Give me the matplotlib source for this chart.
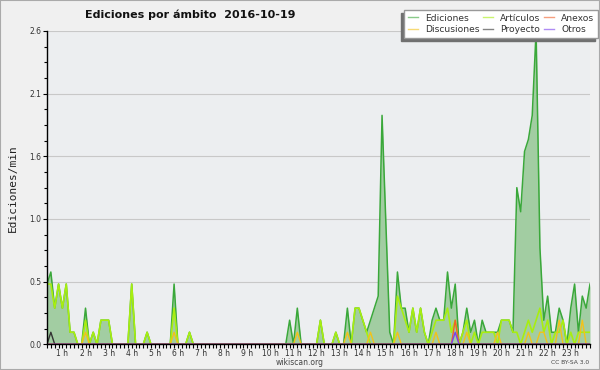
import numpy as np
import matplotlib
matplotlib.use("Agg")
import matplotlib.pyplot as plt
from matplotlib.lines import Line2D
from matplotlib.patches import Rectangle
from matplotlib.ticker import MultipleLocator

# 10-minute bins from 00:20 to 23:50, edits per minute
ediciones = [
    0.5, 0.6, 0.3, 0.5,                 # 0 h
    0.3, 0.5, 0.1, 0.1, 0, 0,           # 1 h
    0.3, 0, 0.1, 0, 0.2, 0.2,           # 2 h
    0.2, 0, 0, 0, 0, 0,                 # 3 h
    0.5, 0, 0, 0, 0.1, 0,               # 4 h
    0, 0, 0, 0, 0, 0.5,                 # 5 h
    0, 0, 0, 0.1, 0, 0,                 # 6 h
    0, 0, 0, 0, 0, 0,                   # 7 h
    0, 0, 0, 0, 0, 0,                   # 8 h
    0, 0, 0, 0, 0, 0,                   # 9 h
    0, 0, 0, 0, 0, 0.2,                 # 10 h
    0, 0.3, 0, 0, 0, 0,                 # 11 h
    0, 0.2, 0, 0, 0, 0.1,               # 12 h
    0, 0, 0.3, 0, 0.3, 0.3,             # 13 h
    0.2, 0.1, 0.2, 0.3, 0.4, 1.9,       # 14 h
    1.0, 0.1, 0, 0.6, 0.3, 0.3,         # 15 h
    0.1, 0.3, 0.1, 0.3, 0.1, 0,         # 16 h
    0.2, 0.3, 0.2, 0.2, 0.6, 0.3,       # 17 h
    0.5, 0, 0.1, 0.3, 0.1, 0.2,         # 18 h
    0, 0.2, 0.1, 0.1, 0.1, 0.1,         # 19 h
    0.2, 0.2, 0.2, 0.1, 1.3, 1.1,       # 20 h
    1.6, 1.7, 1.9, 2.6, 0.8, 0.2,       # 21 h
    0.4, 0.1, 0.1, 0.3, 0.2, 0,         # 22 h
    0.3, 0.5, 0.1, 0.4, 0.3, 0.5,       # 23 h
]

articulos = [
    0.5, 0.5, 0.3, 0.5,
    0.3, 0.5, 0.1, 0.1, 0, 0,
    0.2, 0, 0.1, 0, 0.2, 0.2,
    0.2, 0, 0, 0, 0, 0,
    0.5, 0, 0, 0, 0.1, 0,
    0, 0, 0, 0, 0, 0.3,
    0, 0, 0, 0.1, 0, 0,
    0, 0, 0, 0, 0, 0,
    0, 0, 0, 0, 0, 0,
    0, 0, 0, 0, 0, 0,
    0, 0, 0, 0, 0, 0,
    0, 0, 0, 0, 0, 0,
    0, 0.2, 0, 0, 0, 0.1,
    0, 0, 0, 0, 0.3, 0.3,
    0.2, 0.1, 0, 0, 0, 0,
    0, 0, 0, 0.4, 0.3, 0.2,
    0.1, 0.3, 0.1, 0.3, 0.1, 0,
    0.1, 0.2, 0.2, 0.2, 0.3, 0.1,
    0.2, 0, 0.1, 0.2, 0, 0.1,
    0, 0.1, 0.1, 0.1, 0.1, 0,
    0.2, 0.2, 0.2, 0.1, 0.1, 0,
    0.1, 0.2, 0.1, 0.2, 0.3, 0.1,
    0.2, 0, 0.1, 0.1, 0.2, 0,
    0.1, 0, 0.1, 0.1, 0.1, 0.1,
]

# sparse series: bin start (HH:MM) -> value
discusiones_t = ['02:00', '05:50', '11:10', '13:20', '14:20', '15:30', '17:10',
                 '18:30', '19:50', '21:10', '21:40', '21:50', '22:30', '23:30']
discusiones_v = [0.1, 0.1, 0.1, 0.1, 0.1, 0.1, 0.1, 0.1, 0.1, 0.1, 0.1, 0.1, 0.2, 0.2]
proyecto_t = ['00:30']
proyecto_v = [0.1]
anexos_t = ['18:00']
anexos_v = [0.2]
otros_t = ['18:00']
otros_v = [0.1]

hour_labels = ['%d h' % h for h in range(1, 24)]

t = 20 + 10 * np.arange(len(ediciones))


def sparse(times, vals):
    out = np.zeros(len(t))
    for s, v in zip(times, vals):
        hh, mm = s.split(':')
        out[np.searchsorted(t, int(hh) * 60 + int(mm))] = v
    return out


discusiones = sparse(discusiones_t, discusiones_v)
proyecto = sparse(proyecto_t, proyecto_v)
anexos = sparse(anexos_t, anexos_v)
otros = sparse(otros_t, otros_v)

plt.rcParams['font.family'] = ['DejaVu Sans']

fig = plt.figure(figsize=(6, 3.7), dpi=100, facecolor='#f0f0f0')
ax = fig.add_axes([47 / 600, 25.7 / 370, 543 / 600, 313.3 / 370])
ax.set_facecolor('#eceef0')

c_ed, c_art, c_disc = '#3aa83a', '#a8ee10', '#f2c21a'
c_proy, c_anx, c_otr = '#333333', '#f0602a', '#7a40ee'

ax.fill_between(t, 0, ediciones, color='#a2cda2', lw=0)
ax.plot(t, ediciones, color=c_ed, lw=1.1)
ax.plot(t, articulos, color=c_art, lw=1.2)
ax.plot(t, discusiones, color=c_disc, lw=1.0)
ax.plot(t, proyecto, color=c_proy, lw=1.0)
ax.plot(t, anexos, color=c_anx, lw=1.0)
ax.plot(t, otros, color=c_otr, lw=1.0)

ax.set_xlim(t[0], t[-1])
ax.set_ylim(0, 2.6)
yt = [0, 0.52, 1.04, 1.56, 2.08, 2.6]
ax.set_yticks(yt, ['%.1f' % v for v in yt])
ax.yaxis.set_minor_locator(MultipleLocator(0.13))
ax.set_xticks(60 * np.arange(1, 24), hour_labels)
ax.set_xticks(t, minor=True)
ax.tick_params(which='both', direction='out', length=3, width=0.8, color='black',
               labelsize=5.5, labelcolor='#333333', pad=1.0)
ax.tick_params(axis='y', which='minor', length=2)
ax.tick_params(axis='x', pad=0.3)
ax.yaxis.grid(True, color='#c8c8c8', lw=0.8)
ax.set_axisbelow(True)
for s in ['top', 'right']:
    ax.spines[s].set_visible(False)
for s in ['left', 'bottom']:
    ax.spines[s].set_linewidth(1.0)
    ax.spines[s].set_zorder(5)

ax.set_ylabel('Ediciones/min', family='DejaVu Sans Mono', fontsize=8, color='#222222', labelpad=8)

fig.text(85 / 600, 1 - 15 / 370, 'Ediciones por ámbito  2016-10-19', ha='left', va='center',
         fontsize=8, weight='bold', color='#111111')
fig.text(300 / 600, 1 - 362.5 / 370, 'wikiscan.org', ha='center', va='center', fontsize=5.5, color='#444444')
fig.text(589 / 600, 1 - 362.5 / 370, 'CC BY-SA 3.0', ha='right', va='center', fontsize=4.3, color='#444444')

names = ['Ediciones', 'Discusiones', 'Artículos', 'Proyecto', 'Anexos', 'Otros']
cols = [c_ed, c_disc, c_art, c_proy, c_anx, c_otr]
handles = [Line2D([], [], color=c, lw=1.0, alpha=0.6) for c in cols]
leg = fig.legend(handles, names, ncol=3, loc='upper left', bbox_to_anchor=(404 / 600, 360 / 370),
                 borderaxespad=0, fontsize=6.6, handlelength=1.1, handletextpad=0.8,
                 columnspacing=0.35, labelspacing=0.25, borderpad=0.4, fancybox=False,
                 frameon=True, facecolor='white', edgecolor='#999999', framealpha=1)
for txt in leg.get_texts():
    txt.set_color('#333333')
leg.set_zorder(10)

fig.canvas.draw()
bb = leg.get_window_extent().transformed(fig.transFigure.inverted())
fig.patches.append(Rectangle((bb.x0 - 3 / 600, bb.y0 - 3 / 370), bb.width, bb.height,
                             transform=fig.transFigure, color='#707070', zorder=9))
fig.patches.append(Rectangle((0, 0), 1, 1, transform=fig.transFigure, fill=False,
                             edgecolor='#aaaaaa', lw=1.5, zorder=20))

fig.savefig('out.png', dpi=100, facecolor=fig.get_facecolor())
